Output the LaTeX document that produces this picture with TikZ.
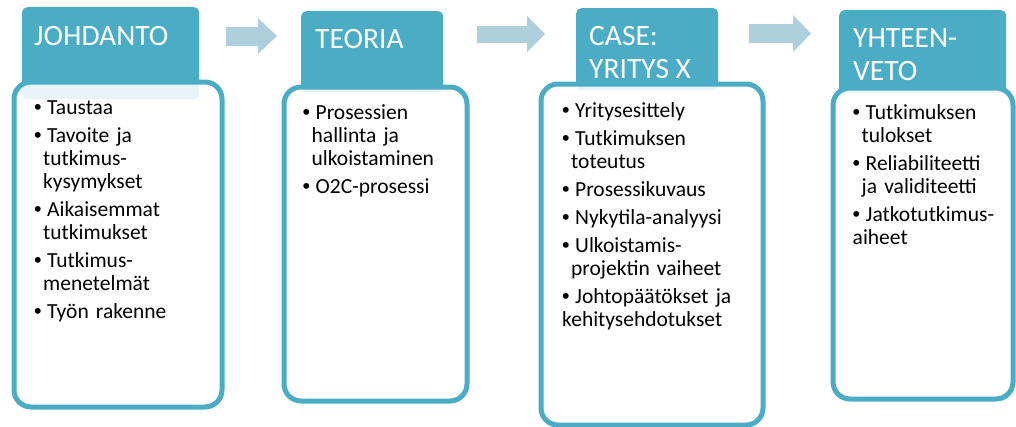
\documentclass[tikz,border=0pt]{standalone}
\usepackage{fontspec}
\setmainfont{Carlito}
\newfontfamily\bulletfont{Liberation Sans}
\definecolor{aqua}{RGB}{75,172,198}
\definecolor{arrowblue}{RGB}{174,208,221}
\newcommand\bitem[1]{\par\hangindent=9pt\hangafter=1\noindent\makebox[13pt][l]{\bulletfont •}#1}
\begin{document}
\begin{tikzpicture}[x=1pt,y=-1pt,
  hdr/.style={fill=aqua, draw=none, rounded corners=5pt, inner sep=0pt, anchor=north west},
  body/.style={draw=aqua, line width=5pt, fill=white, fill opacity=0.88, draw opacity=1, rounded corners=17pt, inner sep=0pt, anchor=north west},
  htext/.style={text=white, font=\fontsize{29.5}{33}\selectfont, anchor=north west, inner sep=0pt, align=left},
  btext/.style={anchor=north west, inner sep=0pt, text width=250pt, font=\fontsize{21.5}{23}\selectfont},
  blockarrow/.style={fill=arrowblue, draw=none}]
\useasboundingbox (0,0) rectangle (1016,426);
% header boxes
\node[hdr, minimum width=177pt, minimum height=92pt] (h1) at (22,7) {};
\node[hdr, minimum width=142pt, minimum height=81pt] (h2) at (301,11) {};
\node[hdr, minimum width=142pt, minimum height=82pt] (h3) at (576,8) {};
\node[hdr, minimum width=167pt, minimum height=83pt] (h4) at (839,10) {};
% body boxes
\node[body, minimum width=208pt, minimum height=325pt] (b1) at (11.5,79.5) {};
\node[body, minimum width=183pt, minimum height=314pt] (b2) at (281.5,84.5) {};
\node[body, minimum width=222pt, minimum height=341pt] (b3) at (538.5,81.5) {};
\node[body, minimum width=180pt, minimum height=311pt] (b4) at (830.5,85.5) {};
% header texts
\node[htext] (ht1) at (34,21.9) {\strut JOHDANTO};
\node[htext] (ht2) at (315,24.9) {\strut TEORIA};
\node[htext] (ht3) at (589,21.9) {\strut CASE:\\\strut YRITYS X};
\node[htext] (ht4) at (853,23.9) {\strut YHTEEN-\\\strut VETO};
% body texts
\node[btext] (t1) at (34,85.9) {\raggedright\parskip=5pt
\bitem{\strut Taustaa}
\bitem{Tavoite ja\newline tutkimus-\newline kysymykset}
\bitem{Aikaisemmat\newline tutkimukset}
\bitem{Tutkimus-\newline menetelmät}
\bitem{Työn rakenne}};
\node[btext] (t2) at (302.5,90.9) {\raggedright\parskip=5pt
\bitem{\strut Prosessien\newline hallinta ja\newline ulkoistaminen}
\bitem{O2C-prosessi}};
\node[btext] (t3) at (562,88.9) {\raggedright\parskip=5pt
\bitem{\strut Yritysesittely}
\bitem{Tutkimuksen\newline toteutus}
\bitem{Prosessikuvaus}
\bitem{Nykytila-analyysi}
\bitem{Ulkoistamis-\newline projektin vaiheet}
\bitem{Johtopäätökset ja\newline kehitysehdotukset}};
\node[btext] (t4) at (852.5,90.9) {\raggedright\parskip=5pt
\bitem{\strut Tutkimuksen\newline tulokset}
\bitem{Reliabiliteetti\newline ja validiteetti}
\bitem{Jatkotutkimus-\newline aiheet}};
% block arrows
\fill[blockarrow] (226,27) -- (258,27) -- (258,18) -- (277,36) -- (258,54) -- (258,46) -- (226,46) -- cycle;
\fill[blockarrow] (477,26) -- (527,26) -- (527,16) -- (545,34) -- (527,52) -- (527,43) -- (477,43) -- cycle;
\fill[blockarrow] (749,24) -- (793,24) -- (793,15) -- (811,33.5) -- (793,52) -- (793,43) -- (749,43) -- cycle;
\end{tikzpicture}
\end{document}
